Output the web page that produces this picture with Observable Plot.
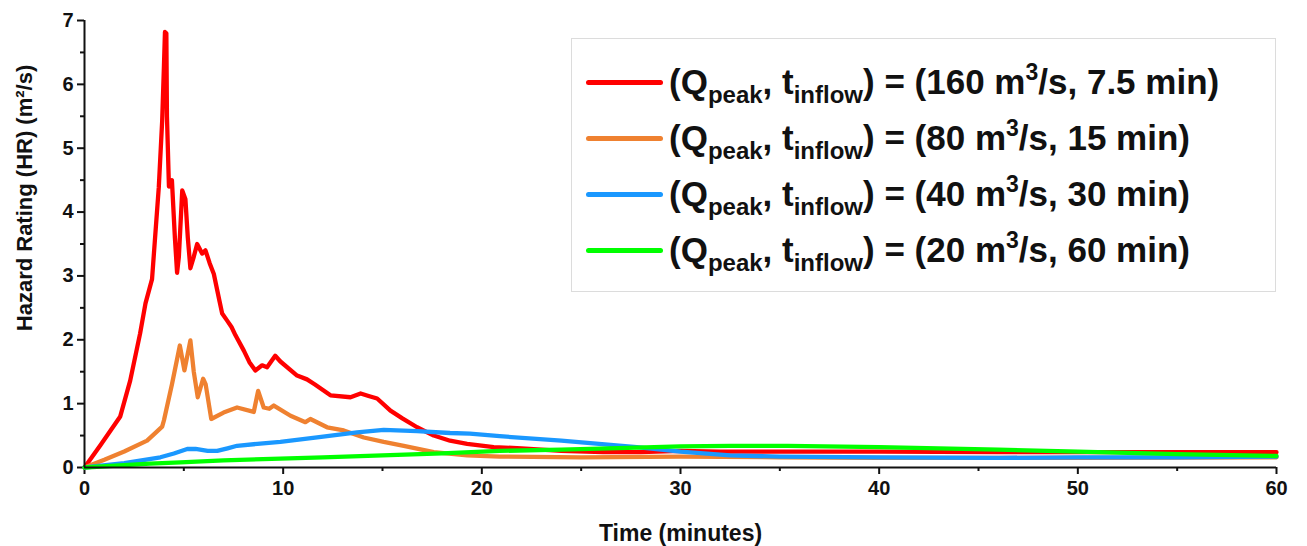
<!DOCTYPE html>
<html>
<head>
<meta charset="utf-8">
<script src="https://cdn.jsdelivr.net/npm/d3@7"></script>
<script src="https://cdn.jsdelivr.net/npm/@observablehq/plot@0.6"></script>
<style>
  body { margin: 0; background: #fff; font-family: Arial, "Liberation Sans", sans-serif; }
  #wrap { position: relative; width: 1307px; height: 546px; overflow: hidden; }
  #legend { position: absolute; left: 571px; top: 38px; width: 705px; height: 254px;
            border: 1.5px solid #dcdcdc; box-sizing: border-box; background: #fff; }
  .row { position: absolute; left: 14px; height: 44px; display: flex; align-items: center;
         font-weight: bold; font-size: 35px; color: #111; white-space: nowrap; }
  .sw { width: 77px; height: 5px; border-radius: 3px; margin-right: 6px; flex: none; }
  .row sub { font-size: 24px; vertical-align: baseline; position: relative; top: 9px; }
  .row sup { font-size: 23px; vertical-align: baseline; position: relative; top: -14px; }
</style>
</head>
<body>
<div id="wrap"></div>
<script>
// ---- Data (time in minutes, hazard rating in m²/s) ----
const seriesNames = ["160", "80", "40", "20"];
const seriesColors = ["#ff0000", "#ef8130", "#1a98ff", "#00ff00"];
const legendQ = ["160", "80", "40", "20"];
const legendT = ["7.5", "15", "30", "60"];

const redT  = [0,0.8,1.8,2.3,2.8,3.07,3.4,3.6,3.74,3.91,4.0,4.05,4.12,4.15,4.25,4.4,4.55,4.66,4.75,4.92,5.08,5.2,5.33,5.5,5.67,5.92,6.09,6.3,6.51,6.8,6.93,7.18,7.4,7.6,8.02,8.3,8.6,8.94,9.19,9.6,9.86,10.7,11.2,11.6,12.38,13.39,13.9,14.3,14.73,15.4,16.0,16.74,17.58,18.4,19.26,20.6,22,24,26.1,28,30,32,36,40,46,50,55,60];
const redHR = [0,0.35,0.8,1.36,2.1,2.57,2.95,3.8,4.39,5.43,6.3,6.82,6.8,5.5,4.4,4.5,3.6,3.05,3.3,4.34,4.2,3.6,3.12,3.3,3.5,3.35,3.4,3.2,3.03,2.6,2.41,2.3,2.2,2.07,1.83,1.65,1.52,1.6,1.57,1.75,1.66,1.44,1.38,1.3,1.13,1.1,1.16,1.12,1.08,0.89,0.77,0.63,0.5,0.42,0.37,0.32,0.3,0.26,0.24,0.24,0.26,0.25,0.25,0.25,0.24,0.24,0.24,0.24];

const orangeT  = [0,1,2,3.15,3.6,3.91,4.0,4.4,4.8,5.03,5.33,5.5,5.7,5.97,6.1,6.38,7.0,7.68,8.52,8.74,9.02,9.3,9.53,10.37,11.12,11.37,12.21,13.05,14.06,15.06,16.07,17.58,19.26,20.9,25,30,35,40,50,60];
const orangeHR = [0,0.12,0.25,0.42,0.55,0.64,0.74,1.3,1.91,1.52,1.99,1.5,1.1,1.39,1.3,0.76,0.86,0.94,0.87,1.2,0.94,0.92,0.97,0.81,0.71,0.76,0.63,0.58,0.47,0.4,0.34,0.24,0.19,0.17,0.16,0.17,0.16,0.15,0.15,0.16];

const blueT  = [0,2,3.82,4.5,5.17,5.59,6.2,6.68,7.2,7.68,8.7,9.86,11.71,13.72,15.06,16.74,18.4,19.4,20.9,24,27.8,30,32.5,35,40,46,50,55,60];
const blueHR = [0,0.07,0.16,0.22,0.29,0.29,0.26,0.26,0.3,0.34,0.37,0.4,0.47,0.55,0.59,0.57,0.54,0.53,0.49,0.42,0.32,0.25,0.19,0.17,0.16,0.15,0.16,0.16,0.17];

const greenT  = [0,3.3,4.83,7,9.86,12,15,18,20.9,24,27.8,30,32.5,35.4,40,46,50,55,60];
const greenHR = [0,0.06,0.08,0.11,0.14,0.16,0.19,0.22,0.26,0.28,0.31,0.33,0.34,0.34,0.32,0.28,0.25,0.21,0.18];

const xMajorTicks = [0,10,20,30,40,50,60];
const xMinorTicks = [5,15,25,35,45,55];
const yMajorTicks = [0,1,2,3,4,5,6,7];
const yMinorTicks = [0.5,1.5,2.5,3.5,4.5,5.5,6.5];
const xLabel = "Time (minutes)";
const yLabel = "Hazard Rating (HR) (m²/s)";

// ---- Build table ----
const allT = [redT, orangeT, blueT, greenT];
const allHR = [redHR, orangeHR, blueHR, greenHR];
const rows = [];
seriesNames.forEach((s, i) => allT[i].forEach((t, j) => rows.push({series: s, t, hr: allHR[i][j]})));

const tickFont = {fontSize: 20, fontWeight: "bold"};

const chart = Plot.plot({
  width: 1307,
  height: 546,
  marginLeft: 84,
  marginRight: 31,
  marginTop: 20,
  marginBottom: 79,
  style: {fontFamily: "Arial, 'Liberation Sans', sans-serif", color: "#111", background: "#fff"},
  x: {domain: [0, 60]},
  y: {domain: [0, 7]},
  color: {domain: seriesNames, range: seriesColors},
  marks: [
    Plot.axisX({ticks: xMajorTicks, tickSize: 7, tickPadding: 6, strokeWidth: 2, label: null, tickFormat: "d", ...tickFont}),
    Plot.axisX({ticks: xMinorTicks, tickSize: 4, strokeWidth: 2, text: null, label: null}),
    Plot.axisY({ticks: yMajorTicks, tickSize: 7, tickPadding: 4, strokeWidth: 2, label: null, tickFormat: "d", ...tickFont}),
    Plot.axisY({ticks: yMinorTicks, tickSize: 4, strokeWidth: 2, text: null, label: null}),
    Plot.line(rows, {x: "t", y: "hr", z: "series", stroke: "series", strokeWidth: 4.3,
                     strokeLinejoin: "round", strokeLinecap: "round", curve: "linear"}),
    Plot.ruleY([0], {stroke: "#111", strokeWidth: 2}),
    Plot.ruleX([0], {stroke: "#111", strokeWidth: 2}),
    Plot.text([xLabel], {frameAnchor: "bottom", textAnchor: "middle", lineAnchor: "middle", dy: 66,
                         text: d => d, fontSize: 23, fontWeight: "bold", fill: "#111"}),
    Plot.text([yLabel], {frameAnchor: "left", textAnchor: "middle", lineAnchor: "middle", dx: -60, dy: -46, rotate: -90,
                         text: d => d, fontSize: 22, fontWeight: "bold", fill: "#111"})
  ]
});

const wrap = document.getElementById("wrap");
wrap.appendChild(chart);

// ---- Legend ----
const legend = document.createElement("div");
legend.id = "legend";
const rowCenters = [43, 99, 155, 211];
seriesNames.forEach((s, i) => {
  const r = document.createElement("div");
  r.className = "row";
  r.style.top = (rowCenters[i] - 22) + "px";
  r.innerHTML = `<span class="sw" style="background:${seriesColors[i]}"></span>` +
    `<span>(Q<sub>peak</sub>, t<sub>inflow</sub>) = (${legendQ[i]} m<sup>3</sup>/s, ${legendT[i]} min)</span>`;
  legend.appendChild(r);
});
wrap.appendChild(legend);
</script>
</body>
</html>
